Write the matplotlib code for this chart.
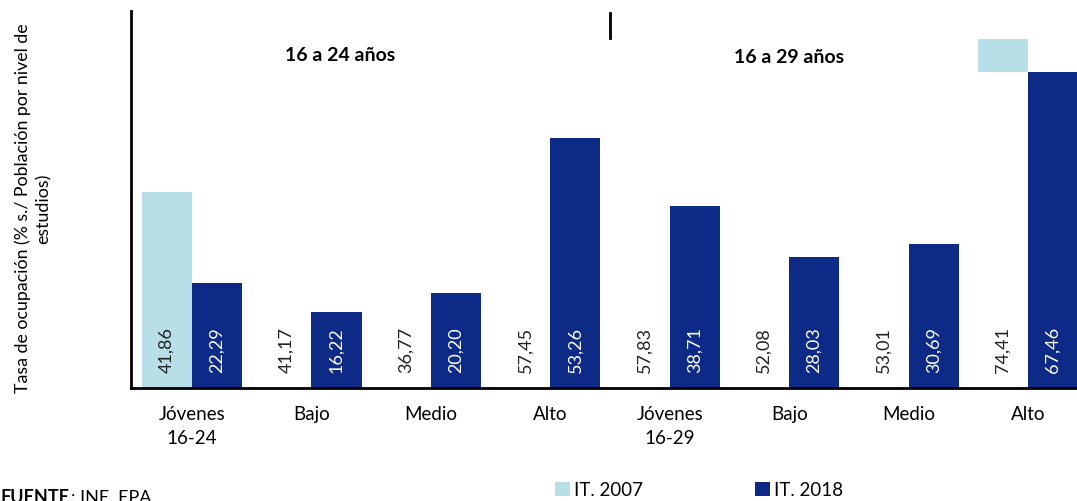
import numpy as np
import matplotlib.pyplot as plt
from matplotlib.patches import Patch

plt.rcParams['font.family'] = ['Lato', 'DejaVu Sans']

categorias = ['Jóvenes\n16-24', 'Bajo', 'Medio', 'Alto',
              'Jóvenes\n16-29', 'Bajo', 'Medio', 'Alto']
it2007 = [41.86, 41.17, 36.77, 57.45, 57.83, 52.08, 53.01, 74.41]
it2018 = [22.29, 16.22, 20.20, 53.26, 38.71, 28.03, 30.69, 67.46]
etiq2007 = ['41,86', '41,17', '36,77', '57,45', '57,83', '52,08', '53,01', '74,41']
etiq2018 = ['22,29', '16,22', '20,20', '53,26', '38,71', '28,03', '30,69', '67,46']
grupos = ['16 a 24 años', '16 a 29 años']

c_claro = '#B8DFE8'
c_oscuro = '#0C2A86'

fig = plt.figure(figsize=(10.77, 5.02), dpi=100)
ax = fig.add_axes([131/1077, (502-389)/502, (1077-131)/1077, (389-12)/502])

x = np.arange(len(categorias))
w = 0.42
# the 2007 series only shows up on the first bar and the top of the last one
col07 = [c_claro] + ['white']*(len(x)-2) + [c_claro]
base07 = [0]*(len(x)-1) + [it2018[-1]]
alt07 = [v - b for v, b in zip(it2007, base07)]
ax.bar(x - w/2, alt07, w, bottom=base07, color=col07, edgecolor='none')
ax.bar(x + w/2, it2018, w, color=c_oscuro, edgecolor='none')

for i in range(len(x)):
    ax.text(x[i] - w/2, 8.3, etiq2007[i], rotation=90, ha='center', va='center',
            fontsize=13, color='#222222')
    ax.text(x[i] + w/2, 8.3, etiq2018[i], rotation=90, ha='center', va='center',
            fontsize=13, color='white')

ax.set_xlim(-0.51, 7.41)
ax.set_ylim(0, 80.4)
ax.set_xticks(x)
ax.set_xticklabels(categorias, fontsize=13.5, linespacing=1.55)
ax.tick_params(axis='x', length=0, pad=12)
ax.set_yticks([])
for s in ['top', 'right']:
    ax.spines[s].set_visible(False)
ax.spines['left'].set_linewidth(2)
ax.spines['bottom'].set_linewidth(2)

ax.plot([3.5, 3.5], [74.6, 80.0], color='black', lw=2, clip_on=False)
ax.text(1.24, 71.2, grupos[0], ha='center', va='center', fontsize=14, fontweight='bold')
ax.text(5.0, 70.8, grupos[1], ha='center', va='center', fontsize=14, fontweight='bold')

fig.text(0.031, 0.585, 'Tasa de ocupación (% s./ Población por nivel de\nestudios)',
         rotation=90, ha='center', va='center', fontsize=12.8, multialignment='center',
         linespacing=1.35)

handles = [Patch(facecolor=c_claro), Patch(facecolor=c_oscuro)]
fig.legend(handles, ['IT. 2007', 'IT. 2018'], loc='center', bbox_to_anchor=(699/1077, 1 - 491/502),
           ncol=2, frameon=False, fontsize=13.5, handlelength=0.8, handleheight=0.8,
           handletextpad=0.2, columnspacing=6, borderpad=0)

fig.text(0.0, -0.008, 'FUENTE', fontsize=13, fontweight='bold', va='bottom', ha='left')
fig.text(0.066, -0.008, ': INE. EPA', fontsize=13, va='bottom', ha='left')

fig.savefig('out.png', dpi=100)
